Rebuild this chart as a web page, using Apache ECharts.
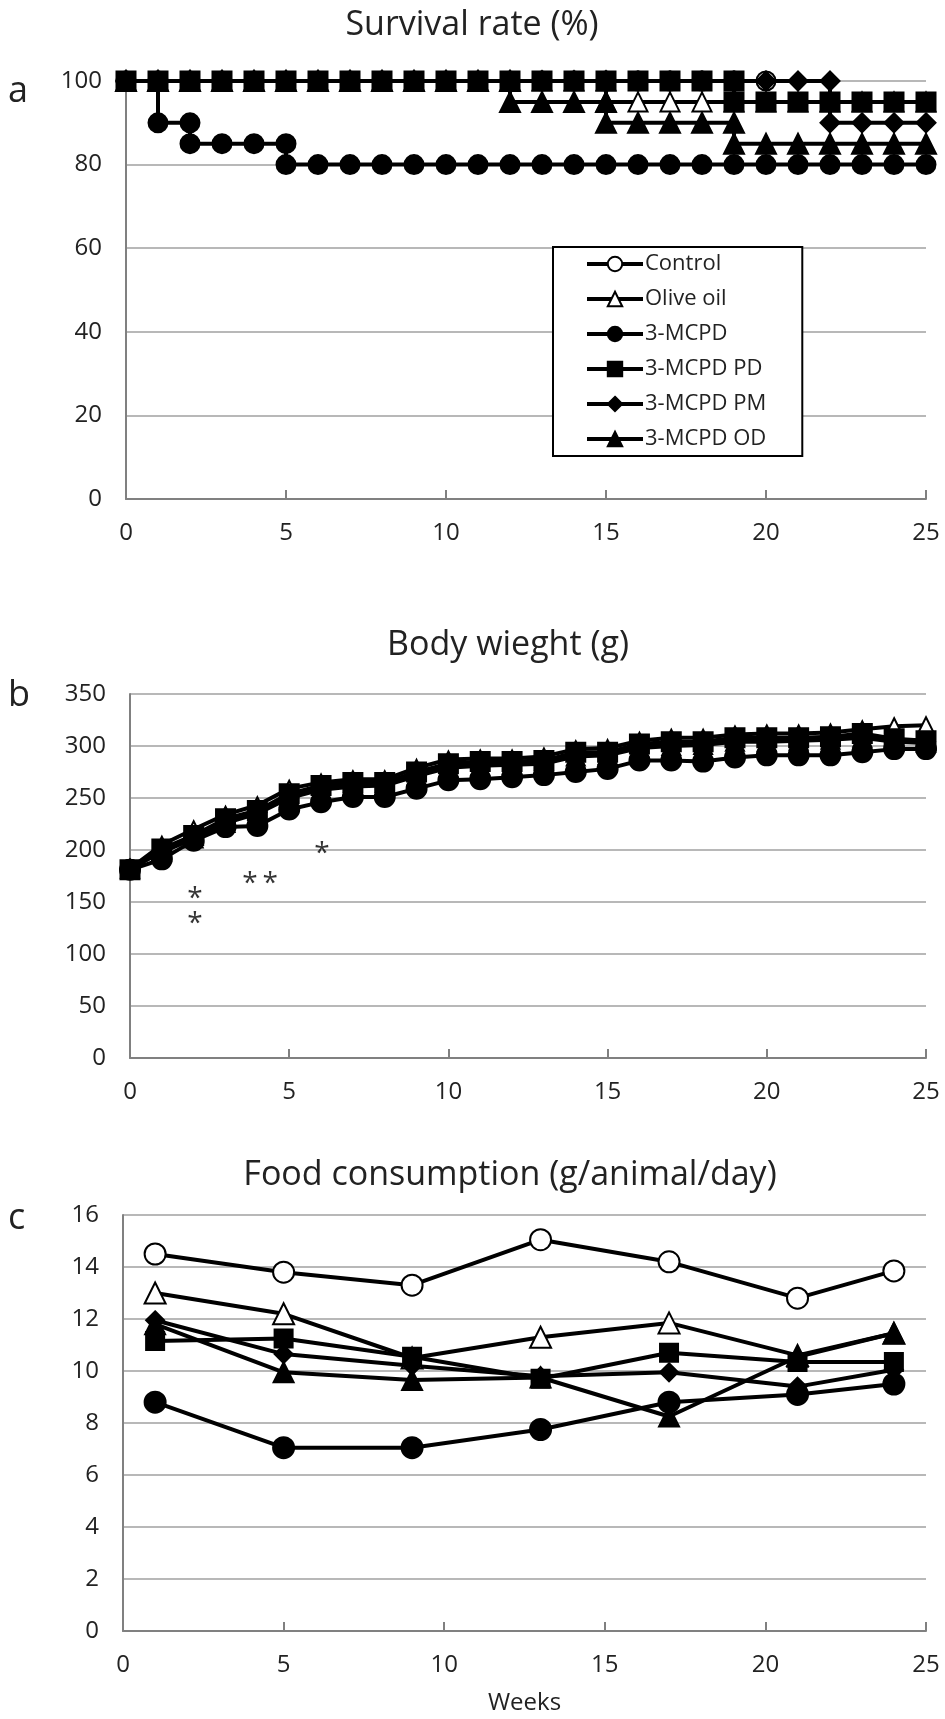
<!DOCTYPE html>
<html>
<head>
<meta charset="utf-8">
<script src="https://cdn.jsdelivr.net/npm/echarts@6/dist/echarts.min.js"></script>
<style>
html,body{margin:0;padding:0;background:#fff;}
#c{width:945px;height:1719px;}
</style>
</head>
<body>
<div id="c"></div>
<script>
// ---------- DATA ----------
var seriesNames = ['Control', 'Olive oil', '3-MCPD', '3-MCPD PD', '3-MCPD PM', '3-MCPD OD'];
var xTicks = [0, 5, 10, 15, 20, 25];

// a) Survival rate (%) : [week, %] (steps drawn as repeated weeks)
var survControl = [[0,100],[1,100],[2,100],[3,100],[4,100],[5,100],[6,100],[7,100],[8,100],[9,100],[10,100],[11,100],[12,100],[13,100],[14,100],[15,100],[16,100],[17,100],[18,100],[19,100],[20,100]];
var survOlive = [[0,100],[1,100],[2,100],[3,100],[4,100],[5,100],[6,100],[7,100],[8,100],[9,100],[10,100],[11,100],[12,100],[13,100],[14,100],[15,100],[15,95],[16,95],[17,95],[18,95],[19,95],[20,95],[21,95],[22,95],[23,95],[24,95],[25,95]];
var survMCPD = [[0,100],[1,100],[1,90],[2,90],[2,85],[3,85],[4,85],[5,85],[5,80],[6,80],[7,80],[8,80],[9,80],[10,80],[11,80],[12,80],[13,80],[14,80],[15,80],[16,80],[17,80],[18,80],[19,80],[20,80],[21,80],[22,80],[23,80],[24,80],[25,80]];
var survPD = [[0,100],[1,100],[2,100],[3,100],[4,100],[5,100],[6,100],[7,100],[8,100],[9,100],[10,100],[11,100],[12,100],[13,100],[14,100],[15,100],[16,100],[17,100],[18,100],[19,100],[19,95],[20,95],[21,95],[22,95],[23,95],[24,95],[25,95]];
var survPM = [[0,100],[1,100],[2,100],[3,100],[4,100],[5,100],[6,100],[7,100],[8,100],[9,100],[10,100],[11,100],[12,100],[13,100],[14,100],[15,100],[16,100],[17,100],[18,100],[19,100],[20,100],[21,100],[22,100],[22,90],[23,90],[24,90],[25,90]];
var survOD = [[0,100],[1,100],[2,100],[3,100],[4,100],[5,100],[6,100],[7,100],[8,100],[9,100],[10,100],[11,100],[12,100],[12,95],[13,95],[14,95],[15,95],[15,90],[16,90],[17,90],[18,90],[19,90],[19,85],[20,85],[21,85],[22,85],[23,85],[24,85],[25,85]];

// b) Body weight (g), weeks 0..25
var bwWeeks = [0,1,2,3,4,5,6,7,8,9,10,11,12,13,14,15,16,17,18,19,20,21,22,23,24,25];
var bwControl = [182,200,213,228,237,252,260,263,264,273,281,283,284,285,292,293,300,302,303,306,306,307,308,310,306,305];
var bwOlive   = [182,205,220,234,243,259,265,268,268,279,287,288,288,290,297,298,305,308,308,311,312,312,313,316,319,320];
var bwMCPD    = [181,191,209,222,223,239,246,251,251,259,267,268,270,272,275,278,286,286,285,289,291,291,291,294,297,297];
var bwPD      = [181,201,214,230,238,254,262,265,265,275,283,285,285,286,294,294,302,304,304,308,308,308,309,312,307,305];
var bwPM      = [182,199,212,227,236,251,259,262,263,272,280,282,283,284,291,292,299,301,302,305,305,306,307,309,305,304];
var bwOD      = [182,198,211,226,235,250,258,261,262,271,279,281,282,283,290,291,298,300,301,304,304,305,306,308,304,303];
// significance marks: [week, g]
var bwStars = [[2.04,160],[2.04,136],[3.77,174],[4.4,174],[6.03,203]];

// c) Food consumption (g/animal/day)
var fcWeeks = [1,5,9,13,17,21,24];
var fcControl = [14.5,13.8,13.3,15.05,14.2,12.8,13.85];
var fcOlive   = [13.0,12.2,10.5,11.3,11.85,10.6,11.45];
var fcMCPD    = [8.8,7.05,7.05,7.75,8.8,9.1,9.5];
var fcPD      = [11.15,11.25,10.55,9.7,10.7,10.35,10.35];
var fcPM      = [11.95,10.65,10.2,9.8,9.95,9.4,10.05];
var fcOD      = [11.8,9.95,9.65,9.75,8.25,10.55,11.45];

var titles = ['Survival rate (%)', 'Body wieght (g)', 'Food consumption (g/animal/day)'];
var panelLabels = ['a', 'b', 'c'];
var xName = 'Weeks';

// ---------- STYLE ----------
var FONT = 'Open Sans';
var TXT = '#222';
var sym = {
  'Control':   {symbol:'circle',   fill:'#fff'},
  'Olive oil': {symbol:'triangle', fill:'#fff'},
  '3-MCPD':    {symbol:'circle',   fill:'#000'},
  '3-MCPD PD': {symbol:'rect',     fill:'#000'},
  '3-MCPD PM': {symbol:'diamond',  fill:'#000'},
  '3-MCPD OD': {symbol:'triangle', fill:'#000'}
};
function zip(xs, ys){ return xs.map(function(x,i){ return [x, ys[i]]; }); }
function mk(name, data, idx, size){
  var s = sym[name];
  return {
    name: name, type: 'line', xAxisIndex: idx, yAxisIndex: idx,
    data: data, symbol: s.symbol, symbolSize: size, showAllSymbol: true,
    lineStyle: {color:'#000', width: 4},
    itemStyle: {color: s.fill, borderColor:'#000', borderWidth: 2},
    emphasis: {disabled: true}, silent: true, z: 3
  };
}
function xAx(idx){
  return {
    type:'value', gridIndex: idx, min:0, max:25, interval:5,
    axisLine:{show:true, lineStyle:{color:'#808080', width:2}},
    axisTick:{show:true, inside:true, length:9, lineStyle:{color:'#808080', width:2}},
    axisLabel:{color:TXT, fontFamily:FONT, fontSize:24, margin:22},
    splitLine:{show:false}
  };
}
function yAx(idx, max, interval){
  return {
    type:'value', gridIndex: idx, min:0, max:max, interval:interval,
    axisLine:{show:true, lineStyle:{color:'#808080', width:2}},
    axisTick:{show:false},
    axisLabel:{color:TXT, fontFamily:FONT, fontSize:24, margin:24},
    splitLine:{show:true, lineStyle:{color:'#a0a0a0', width:1.5}}
  };
}

var series = [
  mk('Control', survControl, 0, 19),
  mk('Olive oil', survOlive, 0, 19),
  mk('3-MCPD', survMCPD, 0, 19),
  mk('3-MCPD OD', survOD, 0, 20),
  mk('3-MCPD PM', survPM, 0, 19),
  mk('3-MCPD PD', survPD, 0, 19),

  mk('Control', zip(bwWeeks, bwControl), 1, 18),
  mk('Olive oil', zip(bwWeeks, bwOlive), 1, 16),
  mk('3-MCPD OD', zip(bwWeeks, bwOD), 1, 18),
  mk('3-MCPD PM', zip(bwWeeks, bwPM), 1, 18),
  mk('3-MCPD', zip(bwWeeks, bwMCPD), 1, 20),
  mk('3-MCPD PD', zip(bwWeeks, bwPD), 1, 19),
  {
    type:'scatter', xAxisIndex:1, yAxisIndex:1, data: bwStars, symbolSize: 1,
    itemStyle:{color:'rgba(0,0,0,0)'}, silent:true,
    label:{show:true, position:'inside', formatter:'*', fontFamily:FONT, fontSize:28, color:'#000', offset:[0,7]}
  },

  mk('Control', zip(fcWeeks, fcControl), 2, 21),
  mk('Olive oil', zip(fcWeeks, fcOlive), 2, 21),
  mk('3-MCPD', zip(fcWeeks, fcMCPD), 2, 21),
  mk('3-MCPD PD', zip(fcWeeks, fcPD), 2, 18),
  mk('3-MCPD PM', zip(fcWeeks, fcPM), 2, 18),
  mk('3-MCPD OD', zip(fcWeeks, fcOD), 2, 20)
];

function titleText(txt, cx, cy){
  return {type:'text', x:cx, y:cy, silent:true,
    style:{text:txt, fill:TXT, font:'34px "Open Sans"', textAlign:'center', textVerticalAlign:'middle'}};
}
function labelText(txt, lx, ty){
  return {type:'text', left:lx, top:ty, silent:true, style:{text:txt, fill:TXT, font:'36px "Open Sans"'}};
}

var option = {
  animation: false,
  backgroundColor: '#fff',
  legend: {
    data: seriesNames, orient:'vertical', left:553, top:247,
    padding:[5,36,5,32], itemGap:11, itemWidth:56, itemHeight:18,
    backgroundColor:'#fff', borderColor:'#000', borderWidth:2, borderRadius:0,
    selectedMode:false,
    lineStyle:{width:4, color:'#000'},
    textStyle:{color:TXT, fontFamily:FONT, fontSize:22, lineHeight:24, padding:[0,0,0,-3]}
  },
  grid: [
    {left:126, right:19, top:81, height:418},
    {left:130, right:19, top:694, height:364},
    {left:123, right:19, top:1215, height:416}
  ],
  xAxis: [xAx(0), xAx(1), (function(){ var a = xAx(2); a.name=xName; a.nameLocation='middle'; a.nameGap=60; a.nameTextStyle={color:TXT, fontFamily:FONT, fontSize:24}; return a; })()],
  yAxis: [yAx(0,100,20), yAx(1,350,50), yAx(2,16,2)],
  graphic: [
    titleText(titles[0], 472, 25),
    titleText(titles[1], 508, 645),
    titleText(titles[2], 510, 1175),
    labelText(panelLabels[0], 8, 74),
    labelText(panelLabels[1], 8, 678),
    labelText(panelLabels[2], 8, 1201)
  ],
  series: series
};
var chart = echarts.init(document.getElementById('c'), null, {renderer:'canvas'});
chart.setOption(option);
</script>
</body>
</html>
